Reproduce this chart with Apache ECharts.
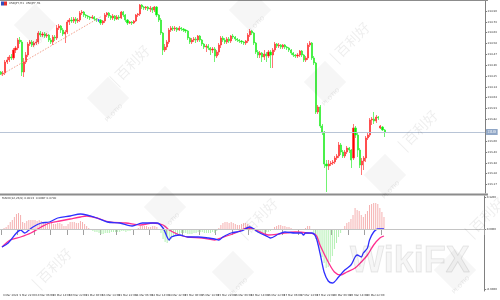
<!DOCTYPE html>
<html><head><meta charset="utf-8">
<script src="https://cdn.jsdelivr.net/npm/echarts@6.0.0/dist/echarts.min.js"></script>
<style>html,body{margin:0;padding:0;background:#fff}#c{width:500px;height:300px}</style>
</head><body><div id="c"></div>
<script>
// ---------- DATA ----------
const chartTitle = 'USDJPY,H1  USDJPY,H1';
const macdTitle = 'MACD(12,26,9) 0.0013 -0.0687 0.0700';
const openP = [
134.29,134.27,134.28,134.39,134.41,134.44,134.43,134.51,134.53,134.61,
134.59,134.29,134.39,134.46,134.57,134.59,134.56,134.58,134.59,134.68,
134.66,134.67,134.65,134.66,134.61,134.59,134.64,134.63,134.73,134.75,
134.71,134.67,134.69,134.79,134.81,134.80,134.82,134.80,134.81,134.88,
134.89,134.86,134.85,134.84,134.83,134.84,134.82,134.81,134.81,134.78,
134.80,134.86,134.88,134.85,134.83,134.85,134.82,134.84,134.83,134.89,
134.86,134.81,134.78,134.79,134.78,134.80,134.86,134.87,134.96,134.94,
134.93,134.94,134.92,134.93,134.91,134.94,134.86,134.81,134.68,134.51,
134.54,134.59,134.71,134.73,134.72,134.73,134.71,134.73,134.72,134.71,
134.70,134.63,134.59,134.61,134.62,134.61,134.65,134.61,134.57,134.54,
134.55,134.53,134.51,134.52,134.45,134.49,134.56,134.63,134.61,134.59,
134.62,134.60,134.65,134.64,134.62,134.61,134.60,134.59,134.58,134.60,
134.66,134.70,134.68,134.58,134.49,134.46,134.48,134.44,134.47,134.45,
134.49,134.46,134.51,134.57,134.55,134.56,134.54,134.56,134.54,134.53,
134.51,134.48,134.46,134.45,134.46,134.50,134.46,134.41,134.43,134.56,
134.58,134.43,134.38,133.89,133.94,133.75,133.69,133.37,133.35,133.37,
133.38,133.39,133.43,133.45,133.56,133.49,133.45,133.49,133.53,133.51,
133.43,133.73,133.66,133.51,133.36,133.40,133.43,133.63,133.66,133.81,
133.82,133.80,133.84,133.73,133.74,133.71];
const closeP = [
134.27,134.28,134.39,134.41,134.44,134.43,134.51,134.53,134.61,134.59,
134.29,134.39,134.46,134.57,134.59,134.56,134.58,134.59,134.68,134.66,
134.67,134.65,134.66,134.61,134.59,134.64,134.63,134.73,134.75,134.71,
134.67,134.69,134.79,134.81,134.80,134.82,134.80,134.81,134.88,134.89,
134.86,134.85,134.84,134.83,134.84,134.82,134.81,134.81,134.78,134.80,
134.86,134.88,134.85,134.83,134.85,134.82,134.84,134.83,134.89,134.86,
134.81,134.78,134.79,134.78,134.80,134.86,134.87,134.96,134.94,134.93,
134.94,134.92,134.93,134.91,134.94,134.86,134.81,134.68,134.51,134.54,
134.59,134.71,134.73,134.72,134.73,134.71,134.73,134.72,134.71,134.70,
134.63,134.59,134.61,134.62,134.61,134.65,134.61,134.57,134.54,134.55,
134.53,134.51,134.52,134.45,134.49,134.56,134.63,134.61,134.59,134.62,
134.60,134.65,134.64,134.62,134.61,134.60,134.59,134.58,134.60,134.66,
134.70,134.68,134.58,134.49,134.46,134.48,134.44,134.47,134.45,134.49,
134.46,134.51,134.57,134.55,134.56,134.54,134.56,134.54,134.53,134.51,
134.48,134.46,134.45,134.46,134.50,134.46,134.41,134.43,134.56,134.58,
134.43,134.38,133.89,133.94,133.75,133.69,133.37,133.35,133.37,133.38,
133.39,133.43,133.45,133.56,133.49,133.45,133.49,133.53,133.51,133.41,
133.73,133.66,133.51,133.36,133.40,133.43,133.63,133.66,133.81,133.82,
133.80,133.84,133.83,133.75,133.71,133.69];
const lowP = [
134.26,134.25,134.26,134.37,134.39,134.41,134.41,134.48,134.51,134.57,
134.25,134.24,134.37,134.44,134.55,134.54,134.54,134.56,134.57,134.64,
134.64,134.63,134.63,134.59,134.57,134.56,134.60,134.61,134.71,134.68,
134.65,134.58,134.67,134.76,134.78,134.78,134.77,134.78,134.79,134.86,
134.84,134.83,134.82,134.81,134.82,134.80,134.79,134.79,134.76,134.76,
134.78,134.84,134.83,134.81,134.81,134.80,134.81,134.81,134.82,134.84,
134.79,134.76,134.77,134.76,134.77,134.79,134.84,134.85,134.92,134.91,
134.91,134.90,134.89,134.88,134.89,134.84,134.79,134.66,134.46,134.49,
134.51,134.57,134.69,134.70,134.70,134.69,134.70,134.70,134.69,134.68,
134.61,134.57,134.57,134.59,134.58,134.59,134.59,134.55,134.52,134.49,
134.51,134.46,134.48,134.39,134.43,134.46,134.53,134.59,134.57,134.57,
134.58,134.58,134.62,134.60,134.59,134.58,134.57,134.56,134.56,134.58,
134.64,134.66,134.56,134.47,134.43,134.43,134.39,134.41,134.39,134.43,
134.33,134.33,134.49,134.53,134.53,134.52,134.52,134.52,134.51,134.49,
134.46,134.44,134.43,134.43,134.44,134.44,134.39,134.39,134.41,134.54,
134.41,134.36,133.87,133.87,133.73,133.66,133.33,133.09,133.31,133.35,
133.36,133.37,133.41,133.43,133.46,133.43,133.43,133.47,133.48,133.33,
133.41,133.63,133.44,133.33,133.26,133.31,133.39,133.61,133.64,133.76,
133.77,133.78,133.81,133.72,133.70,133.64];
const highP = [
134.30,134.30,134.41,134.44,134.46,134.47,134.53,134.55,134.63,134.64,
134.61,134.43,134.49,134.59,134.61,134.61,134.60,134.62,134.70,134.70,
134.69,134.69,134.68,134.67,134.63,134.66,134.66,134.76,134.77,134.76,
134.73,134.71,134.81,134.83,134.84,134.84,134.84,134.83,134.90,134.91,
134.90,134.87,134.86,134.85,134.86,134.85,134.83,134.82,134.82,134.81,
134.88,134.89,134.89,134.86,134.87,134.86,134.86,134.86,134.90,134.90,
134.87,134.82,134.80,134.80,134.81,134.87,134.88,134.97,134.97,134.95,
134.95,134.95,134.95,134.94,134.95,134.95,134.87,134.83,134.69,134.57,
134.61,134.73,134.75,134.75,134.75,134.74,134.75,134.74,134.73,134.72,
134.71,134.64,134.63,134.64,134.64,134.66,134.66,134.62,134.58,134.57,
134.57,134.54,134.54,134.54,134.51,134.58,134.65,134.65,134.63,134.64,
134.64,134.66,134.67,134.65,134.63,134.62,134.61,134.60,134.61,134.68,
134.72,134.71,134.69,134.59,134.51,134.50,134.49,134.51,134.49,134.51,
134.51,134.53,134.59,134.58,134.58,134.57,134.57,134.57,134.55,134.54,
134.52,134.49,134.47,134.48,134.51,134.51,134.47,134.45,134.58,134.60,
134.59,134.45,134.39,133.96,133.96,133.77,133.70,133.41,133.41,133.40,
133.41,133.45,133.47,133.59,133.58,133.51,133.51,133.55,133.54,133.52,
133.77,133.75,133.68,133.53,133.43,133.45,133.65,133.68,133.83,133.84,
133.89,133.86,133.85,133.76,133.75,133.72];
const histVals = [
0.00,0.01,0.02,0.04,0.07,0.09,0.12,0.15,0.16,0.14,
0.07,0.06,0.08,0.09,0.09,0.09,0.09,0.08,0.09,0.08,
0.07,0.07,0.07,0.06,0.06,0.05,0.05,0.06,0.06,0.05,
0.03,0.03,0.05,0.07,0.07,0.07,0.06,0.06,0.08,0.07,
0.05,0.03,0.01,-0.01,-0.02,-0.03,-0.03,-0.04,-0.05,-0.05,
-0.04,-0.04,-0.04,-0.03,-0.03,-0.03,-0.03,-0.03,-0.02,-0.02,
-0.03,-0.02,-0.02,-0.01,-0.01,0.00,0.01,0.03,0.03,0.03,
0.03,0.02,0.02,0.03,0.03,0.02,0.00,-0.04,-0.10,-0.13,
-0.14,-0.12,-0.10,-0.08,-0.07,-0.06,-0.05,-0.04,-0.04,-0.04,
-0.05,-0.05,-0.05,-0.04,-0.04,-0.03,-0.03,-0.03,-0.04,-0.04,
-0.04,-0.04,-0.03,-0.04,-0.02,0.01,0.04,0.06,0.07,0.07,
0.06,0.07,0.06,0.05,0.04,0.04,0.05,0.06,0.06,0.05,
0.04,0.02,-0.01,-0.03,-0.04,-0.04,-0.04,-0.04,-0.03,-0.03,
-0.02,-0.01,0.02,0.03,0.04,0.04,0.03,0.03,0.02,0.02,
0.01,0.00,-0.01,-0.01,0.00,-0.01,-0.01,0.01,0.03,0.03,
0.00,-0.04,-0.10,-0.16,-0.22,-0.28,-0.34,-0.39,-0.38,-0.33,
-0.27,-0.20,-0.14,-0.08,-0.04,-0.01,0.03,0.06,0.07,0.10,
0.14,0.21,0.19,0.18,0.14,0.12,0.15,0.18,0.24,0.25,
0.26,0.26,0.25,0.21,0.17,0.12];
// [bar index, value]
const macdLine = [[0,-0.18],[3,-0.14],[7,-0.04],[9,-0.01],[11,-0.04],[12,-0.03],[15,0.02],[19,0.06],[23,0.07],[27,0.11],[33,0.13],[38,0.15],[41,0.14],[46,0.11],[51,0.07],[57,0.06],[63,0.03],[68,0.06],[75,0.06],[78,0.01],[81,-0.11],[82,-0.08],[86,-0.06],[90,-0.08],[95,-0.08],[100,-0.09],[103,-0.10],[105,-0.11],[107,-0.08],[111,-0.04],[116,-0.02],[120,0.02],[122,0.00],[124,-0.03],[129,-0.08],[130,-0.09],[134,-0.05],[137,-0.03],[142,-0.04],[145,-0.04],[146,-0.06],[147,-0.04],[150,-0.04],[152,-0.08],[154,-0.24],[156,-0.43],[158,-0.52],[160,-0.54],[163,-0.48],[166,-0.41],[169,-0.36],[171,-0.28],[172,-0.26],[174,-0.28],[175,-0.24],[177,-0.19],[178,-0.11],[180,-0.03],[182,0.00],[185,0.00]];
const signalLine = [[0,-0.18],[4,-0.11],[9,-0.08],[14,-0.04],[19,0.02],[23,0.06],[28,0.08],[33,0.10],[38,0.12],[41,0.13],[46,0.11],[52,0.07],[60,0.06],[67,0.04],[73,0.06],[78,0.04],[81,-0.01],[86,-0.06],[90,-0.08],[97,-0.09],[103,-0.11],[106,-0.09],[113,-0.04],[119,0.01],[123,-0.01],[129,-0.06],[134,-0.05],[142,-0.03],[148,-0.04],[152,-0.06],[154,-0.16],[158,-0.33],[161,-0.43],[164,-0.46],[167,-0.43],[171,-0.39],[174,-0.33],[177,-0.26],[180,-0.16],[183,-0.09],[185,-0.07]];
const timeLabels = ['9 Mar 2023','9 Mar 22:00','10 Mar 06:00','10 Mar 14:00','10 Mar 22:00','13 Mar 06:00','13 Mar 14:00','13 Mar 22:00','14 Mar 06:00','14 Mar 14:00','14 Mar 22:00','15 Mar 06:00','15 Mar 14:00','15 Mar 22:00','16 Mar 06:00','16 Mar 14:00','16 Mar 22:00','17 Mar 06:00','17 Mar 14:00','17 Mar 22:00','20 Mar 06:00','20 Mar 14:00','20 Mar 22:00','21 Mar 06:00'];
const priceTicks = [134.90,134.79,134.69,134.58,134.47,134.36,134.25,134.14,134.04,133.93,133.82,133.71,133.60,133.49,133.38,133.28,133.17];
const macdTicks = [0.32,0.00,-0.60];
const lastPrice = 133.69;
const trendLine = [[0,134.26],[48,134.84]];
const TOTAL_SLOTS = 234;
const LABEL_STEP = 8;

// ---------- BUILD ----------
const cats = Array.from({length: TOTAL_SLOTS}, (_, i) => String(i));
const candles = openP.map((o, i) => [o, closeP[i], lowP[i], highP[i]]);
const lastBar = openP.length - 1;
const tinyFont = {fontSize: 2.7, color: '#333', fontFamily: 'DejaVu Sans'};
const showLabel = (i) => i % LABEL_STEP === 0 && i <= lastBar;

const wm = 'rgba(0,0,0,0.035)';
const wmText = 'rgba(0,0,0,0.07)';
function diamond(cx, cy) {
  return [
    {type: 'rect', x: cx, y: cy, rotation: Math.PI / 4, shape: {x: -15, y: -15, width: 30, height: 30}, style: {fill: wm}, silent: true, z: 100},
    {type: 'text', x: cx + 6, y: cy + 15, rotation: Math.PI / 4, style: {text: 'PLOTIO', fontSize: 6, fontWeight: 'bold', fill: wmText, textAlign: 'center', textVerticalAlign: 'middle'}, silent: true, z: 100}
  ];
}
function bailihao(cx, cy) {
  return {type: 'text', x: cx, y: cy, rotation: Math.PI / 4, style: {text: '| 百利好', fontSize: 14, fill: wmText, textAlign: 'center', textVerticalAlign: 'middle', fontFamily: 'Noto Sans CJK SC'}, silent: true, z: 100};
}
const graphics = [
  {type: 'rect', shape: {x: 0, y: 0, width: 488, height: 1}, style: {fill: '#8c8c8c'}, z: 50},
  {type: 'rect', shape: {x: 0, y: 193.5, width: 488, height: 2}, style: {fill: '#8c8c8c'}, z: 50},
  {type: 'rect', shape: {x: 1, y: 1.5, width: 3, height: 4}, style: {fill: '#3050c0'}, z: 60},
  {type: 'rect', shape: {x: 4, y: 1.5, width: 3, height: 4}, style: {fill: '#e03030'}, z: 60},
  {type: 'text', x: 9, y: 3.5, style: {text: chartTitle, fontSize: 2.8, fill: '#333', textVerticalAlign: 'middle', fontFamily: 'DejaVu Sans'}, z: 60},
  {type: 'text', x: 2, y: 198.5, style: {text: macdTitle, fontSize: 2.8, fill: '#333', textVerticalAlign: 'middle', fontFamily: 'DejaVu Sans'}, z: 60},
  {type: 'text', x: 350, y: 262, style: {text: 'WikiFX', fontSize: 36, fontWeight: 'bold', fill: 'rgba(0,0,0,0.035)', stroke: 'rgba(0,0,0,0.09)', lineWidth: 1, textVerticalAlign: 'middle', fontFamily: 'Liberation Sans'}, silent: true, z: 100},
  ...diamond(35, 25), ...diamond(250, 10), ...diamond(325, 82), ...diamond(385, 175),
  ...diamond(165, 207), ...diamond(233, 272), ...diamond(455, 270), ...diamond(108, 98),
  bailihao(130, 65), bailihao(350, 42), bailihao(418, 130), bailihao(52, 268), bailihao(258, 218), bailihao(485, 217)
];

const option = {
  animation: false,
  backgroundColor: '#ffffff',
  grid: [
    {left: 0, top: 1, width: 487, height: 192},
    {left: 0, top: 196, width: 487, height: 95}
  ],
  xAxis: [
    {type: 'category', gridIndex: 0, data: cats, axisLine: {show: false}, axisTick: {show: false}, axisLabel: {show: false}, splitLine: {show: false}},
    {type: 'category', gridIndex: 1, data: cats,
      axisLine: {show: true, lineStyle: {color: '#808080', width: 1}},
      axisTick: {show: true, interval: (i) => showLabel(i), length: 6, lineStyle: {color: '#a0a0a0'}},
      axisLabel: Object.assign({interval: (i) => showLabel(i), formatter: (v, i) => timeLabels[Math.round(i / LABEL_STEP)] || '', align: 'left', margin: 2.5, padding: [0, 0, 0, 1]}, tinyFont),
      splitLine: {show: false}}
  ],
  yAxis: [
    {type: 'value', gridIndex: 0, position: 'right', min: 133.08, max: 135.00, scale: true,
      axisLine: {show: true, lineStyle: {color: '#808080'}},
      axisTick: {show: true, length: 2, customValues: priceTicks, lineStyle: {color: '#808080'}},
      axisLabel: Object.assign({customValues: priceTicks, formatter: (v) => v.toFixed(2), margin: 2.5}, tinyFont),
      splitLine: {show: false}},
    {type: 'value', gridIndex: 1, position: 'right', min: -0.62, max: 0.33,
      axisLine: {show: true, lineStyle: {color: '#808080'}},
      axisTick: {show: true, length: 2, customValues: macdTicks, lineStyle: {color: '#808080'}},
      axisLabel: Object.assign({customValues: macdTicks, formatter: (v) => v.toFixed(4), margin: 2.5}, tinyFont),
      splitLine: {show: false}}
  ],
  series: [
    {type: 'candlestick', xAxisIndex: 0, yAxisIndex: 0, data: candles, barWidth: 1.6,
      itemStyle: {color: '#ff0000', color0: '#00ee00', borderColor: '#ff3a3a', borderColor0: '#33ee33', borderColorDoji: '#3a3aff', borderWidth: 0.7},
      markLine: {silent: true, symbol: 'none', animation: false,
        data: [
          {yAxis: lastPrice, lineStyle: {color: '#b8c4d6', width: 1, type: 'solid'},
            label: {show: true, position: 'end', formatter: () => lastPrice.toFixed(2), backgroundColor: '#8fa6c6', color: '#fff', fontSize: 2.8, padding: [1.5, 1.5], distance: 1}},
          [{coord: [cats[trendLine[0][0]], trendLine[0][1]], lineStyle: {color: '#f2a08c', width: 1, type: [1.5, 1.5]}, label: {show: false}},
           {coord: [cats[trendLine[1][0]], trendLine[1][1]]}]
        ]}},
    {type: 'bar', xAxisIndex: 1, yAxisIndex: 1, data: histVals, barWidth: 1,
      itemStyle: {color: (p) => p.value >= 0 ? '#f5b0b0' : '#b2f0b2'},
      markLine: {silent: true, symbol: 'none', label: {show: false}, data: [{yAxis: 0}], lineStyle: {color: '#c4c4c4', width: 1, type: 'solid'}}},
    {type: 'line', xAxisIndex: 1, yAxisIndex: 1, data: signalLine.map(([i, v]) => [cats[i], v]), symbol: 'none', smooth: 0.3,
      lineStyle: {color: '#ff2f8f', width: 1.3}},
    {type: 'line', xAxisIndex: 1, yAxisIndex: 1, data: macdLine.map(([i, v]) => [cats[i], v]), symbol: 'none', smooth: 0.3,
      lineStyle: {color: '#2f2fff', width: 1.3}}
  ],
  graphic: graphics
};
const chart = echarts.init(document.getElementById('c'), null, {renderer: 'canvas'});
chart.setOption(option);
</script></body></html>
